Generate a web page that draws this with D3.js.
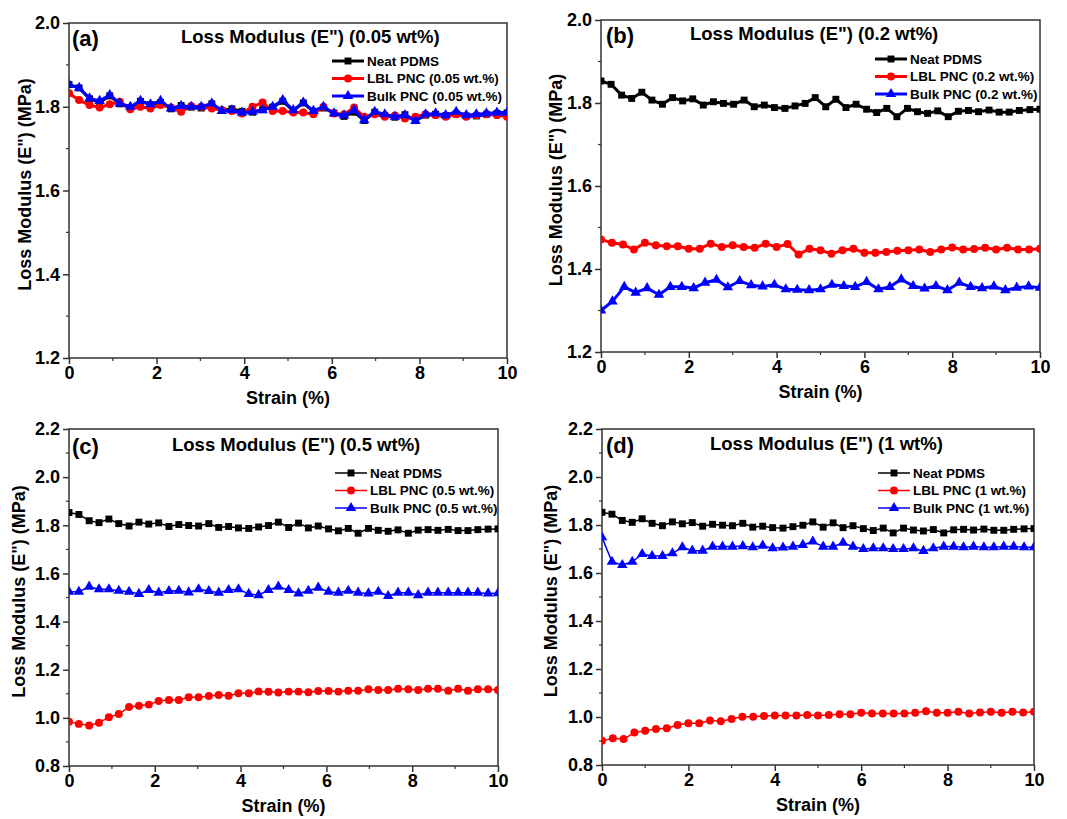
<!DOCTYPE html>
<html>
<head>
<meta charset="utf-8">
<script src="https://cdn.jsdelivr.net/npm/d3@7"></script>
<style>
  body { margin: 0; background: #fff; }
  svg { display: block; }
  text { font-family: "Liberation Sans", Arial, sans-serif; font-weight: bold; fill: #000; }
</style>
</head>
<body>
<div id="chart"></div>
<script>
/*
------------------------------
DATA: strain grids (%) and loss modulus values (MPa)
------------------------------
*/
const strain44 = [0, 0.23, 0.47, 0.70, 0.93, 1.16, 1.40, 1.63, 1.86, 2.09, 2.33, 2.56, 2.79, 3.02, 3.26,
  3.49, 3.72, 3.95, 4.19, 4.42, 4.65, 4.88, 5.12, 5.35, 5.58, 5.81, 6.05, 6.28, 6.51, 6.74, 6.98,
  7.21, 7.44, 7.67, 7.91, 8.14, 8.37, 8.60, 8.84, 9.07, 9.30, 9.53, 9.77, 10.0];
const strain41 = [0, 0.25, 0.5, 0.75, 1, 1.25, 1.5, 1.75, 2, 2.25, 2.5, 2.75, 3, 3.25, 3.5, 3.75, 4,
  4.25, 4.5, 4.75, 5, 5.25, 5.5, 5.75, 6, 6.25, 6.5, 6.75, 7, 7.25, 7.5, 7.75, 8, 8.25, 8.5, 8.75,
  9, 9.25, 9.5, 9.75, 10];
const strain39 = [0, 0.26, 0.53, 0.79, 1.05, 1.32, 1.58, 1.84, 2.11, 2.37, 2.63, 2.89, 3.16, 3.42,
  3.68, 3.95, 4.21, 4.47, 4.74, 5.00, 5.26, 5.53, 5.79, 6.05, 6.32, 6.58, 6.84, 7.11, 7.37, 7.63,
  7.89, 8.16, 8.42, 8.68, 8.95, 9.21, 9.47, 9.74, 10.0];

const neatPDMS = [1.853, 1.845, 1.819, 1.811, 1.826, 1.807, 1.797, 1.813, 1.805, 1.810, 1.795, 1.803,
  1.799, 1.797, 1.807, 1.791, 1.795, 1.789, 1.787, 1.793, 1.799, 1.813, 1.791, 1.809, 1.789, 1.797,
  1.785, 1.777, 1.787, 1.767, 1.787, 1.779, 1.775, 1.781, 1.767, 1.780, 1.782, 1.779, 1.783, 1.778,
  1.778, 1.782, 1.784, 1.785];

const lbl005 = [1.832, 1.816, 1.804, 1.798, 1.806, 1.812, 1.794, 1.800, 1.796, 1.804, 1.798, 1.788,
  1.802, 1.800, 1.796, 1.792, 1.790, 1.784, 1.800, 1.810, 1.790, 1.790, 1.786, 1.786, 1.782, 1.800,
  1.784, 1.782, 1.798, 1.776, 1.782, 1.776, 1.779, 1.772, 1.776, 1.782, 1.780, 1.776, 1.782, 1.776,
  1.780, 1.782, 1.780, 1.776];
const bulk005 = [1.853, 1.845, 1.820, 1.814, 1.828, 1.808, 1.800, 1.814, 1.806, 1.814, 1.796, 1.802,
  1.800, 1.800, 1.808, 1.790, 1.792, 1.786, 1.788, 1.792, 1.800, 1.816, 1.792, 1.810, 1.790, 1.800,
  1.784, 1.779, 1.792, 1.768, 1.788, 1.782, 1.776, 1.780, 1.766, 1.782, 1.784, 1.780, 1.788, 1.780,
  1.782, 1.784, 1.786, 1.786];

const lbl02 = [1.471, 1.463, 1.459, 1.447, 1.463, 1.457, 1.455, 1.455, 1.449, 1.449, 1.461, 1.453,
  1.457, 1.453, 1.451, 1.461, 1.453, 1.460, 1.435, 1.449, 1.445, 1.437, 1.445, 1.449, 1.439, 1.439,
  1.441, 1.444, 1.445, 1.447, 1.441, 1.447, 1.452, 1.447, 1.448, 1.451, 1.447, 1.451, 1.447, 1.447,
  1.449];
const bulk02 = [1.300, 1.322, 1.357, 1.343, 1.354, 1.338, 1.357, 1.357, 1.354, 1.367, 1.374, 1.356,
  1.371, 1.361, 1.358, 1.362, 1.351, 1.350, 1.349, 1.351, 1.362, 1.359, 1.357, 1.369, 1.351, 1.357,
  1.375, 1.359, 1.353, 1.359, 1.349, 1.367, 1.357, 1.354, 1.358, 1.349, 1.355, 1.358, 1.355];

const lbl05 = [0.984, 0.975, 0.968, 0.980, 1.003, 1.016, 1.045, 1.050, 1.055, 1.070, 1.074, 1.074,
  1.086, 1.086, 1.091, 1.095, 1.092, 1.102, 1.102, 1.110, 1.108, 1.105, 1.109, 1.109, 1.106, 1.112,
  1.112, 1.109, 1.113, 1.113, 1.119, 1.116, 1.116, 1.121, 1.119, 1.116, 1.121, 1.121, 1.113, 1.121,
  1.113, 1.119, 1.119, 1.116];
const bulk05 = [1.524, 1.524, 1.545, 1.534, 1.534, 1.528, 1.524, 1.515, 1.531, 1.520, 1.527, 1.528,
  1.521, 1.534, 1.527, 1.520, 1.531, 1.534, 1.515, 1.510, 1.531, 1.545, 1.531, 1.517, 1.528, 1.541,
  1.524, 1.520, 1.528, 1.520, 1.517, 1.524, 1.506, 1.520, 1.520, 1.510, 1.520, 1.520, 1.520, 1.520,
  1.520, 1.520, 1.517, 1.518];

const lbl1 = [0.901, 0.911, 0.908, 0.935, 0.943, 0.950, 0.953, 0.967, 0.974, 0.974, 0.985, 0.982,
  0.992, 1.001, 1.001, 1.004, 1.006, 1.006, 1.006, 1.008, 1.006, 1.008, 1.011, 1.011, 1.018, 1.015,
  1.015, 1.015, 1.015, 1.018, 1.024, 1.018, 1.018, 1.022, 1.015, 1.019, 1.022, 1.018, 1.022, 1.019,
  1.022];
const bulk1 = [1.749, 1.647, 1.633, 1.647, 1.679, 1.671, 1.671, 1.682, 1.707, 1.693, 1.693, 1.710,
  1.710, 1.710, 1.712, 1.707, 1.714, 1.703, 1.706, 1.710, 1.717, 1.731, 1.710, 1.710, 1.726, 1.710,
  1.700, 1.703, 1.703, 1.700, 1.700, 1.703, 1.692, 1.703, 1.710, 1.710, 1.707, 1.710, 1.707, 1.707,
  1.710, 1.710, 1.707, 1.707];

const xTicks = [0, 2, 4, 6, 8, 10];
const yTicksAB = [1.2, 1.4, 1.6, 1.8, 2.0];
const yTicksCD = [0.8, 1.0, 1.2, 1.4, 1.6, 1.8, 2.0, 2.2];
const panelLetters = ["(a)", "(b)", "(c)", "(d)"];
const panelTitles = ["Loss Modulus (E\") (0.05 wt%)", "Loss Modulus (E\") (0.2 wt%)",
  "Loss Modulus (E\") (0.5 wt%)", "Loss Modulus (E\") (1 wt%)"];
const legendA = ["Neat PDMS", "LBL PNC (0.05 wt.%)", "Bulk PNC (0.05 wt.%)"];
const legendB = ["Neat PDMS", "LBL PNC (0.2 wt.%)", "Bulk PNC (0.2 wt.%)"];
const legendC = ["Neat PDMS", "LBL PNC (0.5 wt.%)", "Bulk PNC (0.5 wt.%)"];
const legendD = ["Neat PDMS", "LBL PNC (1 wt.%)", "Bulk PNC (1 wt.%)"];

/*
------------------------------
LAYOUT: one entry per panel (positions & styles only)
------------------------------
*/
const seriesStyle = [
  { color: "#000000", symbol: d3.symbolSquare, size: 48 },
  { color: "#ff0000", symbol: d3.symbolCircle, size: 50 },
  { color: "#0000ff", symbol: d3.symbolTriangle, size: 48 },
];

const panels = [
  { left: 69, top: 23, width: 438, height: 335, yDomain: [1.2, 2.0], yTicks: yTicksAB, lineWidth: 3,
    letterX: 72, titleX: 181, titleY: 43, legendX: 332, legendY: 61, yLabelX: 25,
    xs: [strain44, strain44, strain44], ys: [neatPDMS, lbl005, bulk005], legend: legendA },
  { left: 601, top: 20, width: 439, height: 332, yDomain: [1.2, 2.0], yTicks: yTicksAB, lineWidth: 3,
    letterX: 606, titleX: 690, titleY: 40, legendX: 875, legendY: 59, yLabelX: 556,
    xs: [strain44, strain41, strain39], ys: [neatPDMS, lbl02, bulk02], legend: legendB },
  { left: 69, top: 429, width: 429, height: 337, yDomain: [0.8, 2.2], yTicks: yTicksCD, lineWidth: 1.5,
    letterX: 72, titleX: 172, titleY: 451, legendX: 335, legendY: 473, yLabelX: 19,
    xs: [strain44, strain44, strain44], ys: [neatPDMS, lbl05, bulk05], legend: legendC },
  { left: 602, top: 429, width: 432, height: 336, yDomain: [0.8, 2.2], yTicks: yTicksCD, lineWidth: 1.5,
    letterX: 606, titleX: 710, titleY: 450, legendX: 878, legendY: 473, yLabelX: 551,
    xs: [strain44, strain41, strain44], ys: [neatPDMS, lbl1, bulk1], legend: legendD },
];

const svg = d3.select("#chart").append("svg")
  .attr("width", 1067).attr("height", 819)
  .style("background", "#fff");

panels.forEach(function (p, i) {
  const x = d3.scaleLinear().domain([0, 10]).range([p.left, p.left + p.width]);
  const y = d3.scaleLinear().domain(p.yDomain).range([p.top + p.height, p.top]);
  const g = svg.append("g");

  // minor ticks (outward)
  const xMinor = d3.range(1, 10, 2);
  const yMinor = p.yTicks.slice(0, -1).map(function (t) { return t + 0.1; });
  g.selectAll(".xminor").data(xMinor).enter().append("line")
    .attr("x1", x).attr("x2", x)
    .attr("y1", p.top + p.height).attr("y2", p.top + p.height + 3)
    .attr("stroke", "#333").attr("stroke-width", 1.2);
  g.selectAll(".yminor").data(yMinor).enter().append("line")
    .attr("y1", y).attr("y2", y)
    .attr("x1", p.left).attr("x2", p.left - 3)
    .attr("stroke", "#333").attr("stroke-width", 1.2);

  // x axis
  const xAxis = g.append("g")
    .attr("transform", "translate(0," + (p.top + p.height) + ")")
    .call(d3.axisBottom(x).tickValues(xTicks).tickSize(6).tickPadding(2).tickFormat(d3.format("d")));
  xAxis.select(".domain").remove();
  xAxis.selectAll("line").attr("stroke", "#333").attr("stroke-width", 1.5);
  xAxis.selectAll("text").style("font-size", "18px").attr("fill", "#000");

  // y axis
  const yAxis = g.append("g")
    .attr("transform", "translate(" + p.left + ",0)")
    .call(d3.axisLeft(y).tickValues(p.yTicks).tickSize(6).tickPadding(3).tickFormat(d3.format(".1f")));
  yAxis.select(".domain").remove();
  yAxis.selectAll("line").attr("stroke", "#333").attr("stroke-width", 1.5);
  yAxis.selectAll("text").style("font-size", "18px").attr("fill", "#000");

  // frame
  g.append("rect")
    .attr("x", p.left).attr("y", p.top)
    .attr("width", p.width).attr("height", p.height)
    .attr("fill", "none").attr("stroke", "#333").attr("stroke-width", 1.5);

  // axis titles
  g.append("text")
    .attr("x", p.left + p.width / 2).attr("y", p.top + p.height + 46)
    .attr("text-anchor", "middle").style("font-size", "18px")
    .text("Strain (%)");
  g.append("text")
    .attr("transform", "translate(" + p.yLabelX + "," + (p.top + p.height / 2 - 6) + ") rotate(-90)")
    .attr("text-anchor", "middle").attr("dominant-baseline", "central").style("font-size", "18px")
    .text("Loss Modulus (E\") (MPa)");

  // panel letter + title
  g.append("text").attr("x", p.letterX).attr("y", p.titleY + 3)
    .style("font-size", "22px").text(panelLetters[i]);
  g.append("text").attr("x", p.titleX).attr("y", p.titleY)
    .style("font-size", "18.5px").text(panelTitles[i]);

  // series
  const clip = "clip" + i;
  svg.append("clipPath").attr("id", clip).append("rect")
    .attr("x", p.left).attr("y", p.top).attr("width", p.width).attr("height", p.height);
  const plot = g.append("g").attr("clip-path", "url(#" + clip + ")");

  p.ys.forEach(function (vals, k) {
    const st = seriesStyle[k];
    const pts = vals.map(function (v, j) { return [p.xs[k][j], v]; });
    plot.append("path")
      .datum(pts)
      .attr("fill", "none")
      .attr("stroke", st.color)
      .attr("stroke-width", p.lineWidth)
      .attr("stroke-linejoin", "round")
      .attr("d", d3.line().x(function (d) { return x(d[0]); }).y(function (d) { return y(d[1]); }));
    plot.selectAll(".m" + k).data(pts).enter().append("path")
      .attr("transform", function (d) { return "translate(" + x(d[0]) + "," + y(d[1]) + ")"; })
      .attr("d", d3.symbol().type(st.symbol).size(st.size))
      .attr("fill", st.color);
  });

  // legend
  p.legend.forEach(function (label, k) {
    const st = seriesStyle[k];
    const ly = p.legendY + k * 17.5;
    g.append("line")
      .attr("x1", p.legendX).attr("x2", p.legendX + 32)
      .attr("y1", ly).attr("y2", ly)
      .attr("stroke", st.color).attr("stroke-width", p.lineWidth);
    g.append("path")
      .attr("transform", "translate(" + (p.legendX + 16) + "," + ly + ")")
      .attr("d", d3.symbol().type(st.symbol).size(st.size))
      .attr("fill", st.color);
    g.append("text")
      .attr("x", p.legendX + 35).attr("y", ly)
      .attr("dominant-baseline", "central")
      .style("font-size", "13.5px")
      .text(label);
  });
});
</script>
</body>
</html>
